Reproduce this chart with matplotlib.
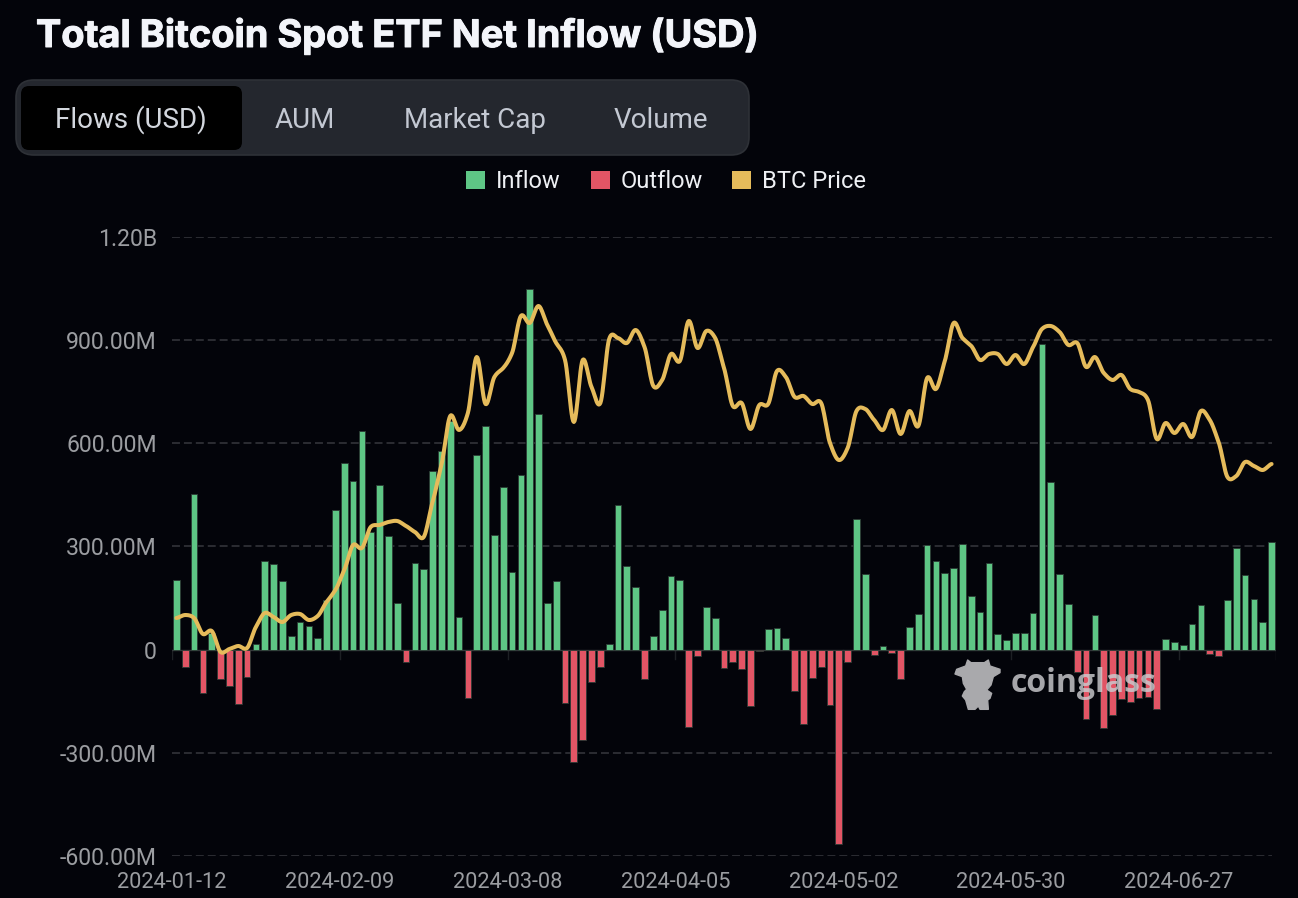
import numpy as np
import matplotlib
matplotlib.use('Agg')
import matplotlib.pyplot as plt
import matplotlib.patheffects as pe
from matplotlib.patches import FancyBboxPatch, Rectangle, Polygon

# daily net flow in millions of USD
flows = [
    203, -52, 453, -126, 47, -87, -106, -158, -79, 15,
    256, 248, 198, 39, 80, 69, 34, 145, 406, 541,
    491, 636, 341, 479, 331, 136, -36, 252, 233, 520,
    576, 665, 93, -140, 564, 649, 332, 473, 224, 507,
    1047, 684, 134, 199, -154, -327, -262, -94, -50, 15,
    419, 244, 183, -85, 40, 114, 213, 203, -225, -19,
    124, 91, -55, -37, -58, -165, -4, 60, 62, 32,
    -121, -217, -82, -52, -161, -564, -35, 379, 218, -16,
    11, -11, -85, 66, 102, 303, 257, 222, 238, 306,
    155, 108, 252, 46, 29, 49, 49, 105, 888, 488,
    218, 131, -65, -201, 101, -227, -190, -145, -152, -141,
    -138, -174, 31, 21, 12, 74, 130, -13, -20, 143,
    296, 217, 148, 79, 311,
]

btc_price = [
    42800, 43100, 42800, 41200, 41500, 39400, 39700, 40000, 39800, 41900,
    43300, 42900, 42400, 43100, 43200, 42600, 43000, 44400, 45600, 47600,
    50100, 49800, 51900, 52100, 52400, 52500, 52000, 51400, 50900, 54400,
    58100, 63000, 61600, 63300, 68900, 64200, 66900, 67800, 69300, 73000,
    72300, 74000, 72100, 70300, 68600, 62400, 68600, 65900, 64300, 70700,
    70800, 70300, 71600, 69900, 66000, 66600, 69200, 68500, 72500, 69800,
    71500, 70800, 67800, 64000, 64300, 61700, 64100, 64200, 67500, 66900,
    64900, 65000, 64200, 64300, 60300, 58600, 59800, 63500, 63700, 62600,
    61600, 63600, 61200, 63500, 62000, 66800, 65700, 68500, 72300, 70800,
    70000, 68600, 69200, 69200, 68200, 69100, 68200, 69900, 71700, 72000,
    71400, 70100, 70300, 67900, 68900, 67300, 66600, 67100, 65700, 65400,
    64600, 60700, 62300, 61300, 62200, 60900, 63500, 62600, 60400, 56900,
    57000, 58400, 58000, 57600, 58200,
]

y_ticks = [-600, -300, 0, 300, 600, 900, 1200]
y_labels = ['-600.00M', '-300.00M', '0', '300.00M', '600.00M', '900.00M', '1.20B']
x_tick_pos = [0, 19, 38, 57, 76, 95, 114]
x_labels = ['2024-01-12', '2024-02-09', '2024-03-08', '2024-04-05',
            '2024-05-02', '2024-05-30', '2024-06-27']
tabs = ['Flows (USD)', 'AUM', 'Market Cap', 'Volume']

BG = '#03040a'
GREEN = '#5ec685'
RED = '#e25565'
GOLD = '#e5bb5b'
TICK = '#9b9da1'
W, H = 1298, 898

plt.rcParams['font.family'] = ['Roboto', 'DejaVu Sans']


def smooth(x, y, n=12, k=0.42):
    # cardinal spline through the daily points, the web chart draws a smoothed line
    x = np.asarray(x, float)
    y = np.asarray(y, float)
    py = np.r_[y[0], y, y[-1]]
    out_x, out_y = [], []
    t = np.linspace(0, 1, n, endpoint=False)
    for i in range(len(x) - 1):
        m1 = k * (py[i + 2] - py[i])
        m2 = k * (py[i + 3] - py[i + 1])
        p1, p2 = py[i + 1], py[i + 2]
        out_y.append((2 * t ** 3 - 3 * t ** 2 + 1) * p1 + (t ** 3 - 2 * t ** 2 + t) * m1
                     + (-2 * t ** 3 + 3 * t ** 2) * p2 + (t ** 3 - t ** 2) * m2)
        out_x.append(x[i] + t * (x[i + 1] - x[i]))
    return np.r_[np.concatenate(out_x), x[-1]], np.r_[np.concatenate(out_y), y[-1]]


fig = plt.figure(figsize=(W / 100, H / 100), dpi=100, facecolor=BG)

ax = fig.add_axes([172 / W, 1 - 856 / H, (1276 - 172) / W, (856 - 236.5) / H], facecolor=BG)
days = np.arange(len(flows))
values = np.array(flows)
colors = [GREEN if v >= 0 else RED for v in values]
ax.bar(days, values, width=0.76, color=colors, edgecolor='#2c3a35', linewidth=0.6, zorder=3)

ax.set_xlim(-0.5, len(flows) - 0.5)
ax.set_ylim(-600, 1200)
ax.set_yticks(y_ticks)
ax.set_yticklabels(y_labels, color=TICK, fontsize=16.6)
# labels sit on the band edges, not the bar centres
ax.set_xticks(np.array(x_tick_pos) - 0.5)
ax.set_xticklabels(x_labels, color=TICK, fontsize=15.7)
ax.tick_params(axis='y', length=0, pad=11)
ax.tick_params(axis='x', length=0, pad=11.5)
for s in ax.spines.values():
    s.set_visible(False)

for v in y_ticks:
    if v == 0:
        continue
    ax.axhline(v, color='#36383d', linewidth=1.1, dashes=(5.2, 2.6), xmax=0.9965, zorder=1)
ax.axhline(0, color='#33363a', linewidth=1, zorder=2)
for pos in list(np.array(x_tick_pos) - 0.5) + [len(flows) - 0.5]:
    ax.plot([pos, pos], [0, -28], color='#1d2024', linewidth=1, zorder=1)

ax2 = ax.twinx()
ax2.set_ylim(19000, 80950)
ax2.axis('off')
sx, sy = smooth(days, btc_price)
ax2.plot(sx, sy, color=GOLD, linewidth=2.9, solid_capstyle='round', zorder=4)

# page furniture in pixel coordinates
top = fig.add_axes([0, 0, 1, 1], facecolor='none')
top.set_xlim(0, W)
top.set_ylim(H, 0)
top.axis('off')

top.text(36, 36, 'Total Bitcoin Spot ETF Net Inflow (USD)', color='#f3f5fa', fontsize=27.3,
         fontweight='bold', family=['Inter', 'DejaVu Sans'], va='center', ha='left',
         path_effects=[pe.withStroke(linewidth=0.7, foreground='#f3f5fa')])

top.add_patch(FancyBboxPatch((34, 98), 697, 39, boxstyle='round,pad=18,rounding_size=18',
                             facecolor='#24272e', edgecolor='#2e3137', linewidth=1.2))
top.add_patch(FancyBboxPatch((29, 94), 205, 48, boxstyle='round,pad=8,rounding_size=8',
                             facecolor='#000000', edgecolor='none'))
tab_x = [131, 305, 475, 661]
for t, x, c in zip(tabs, tab_x, ['#d3d7de', '#c3c8d2', '#c3c8d2', '#c3c8d2']):
    top.text(x, 120, t, color=c, fontsize=20, va='center', ha='center')

for x, name, c in [(466, 'Inflow', GREEN), (591, 'Outflow', RED), (732, 'BTC Price', GOLD)]:
    top.add_patch(Rectangle((x, 171), 19, 18, facecolor=c, edgecolor='none'))
    top.text(x + 30, 181, name, color='#eef0f4', fontsize=17, va='center', ha='left')

# watermark
mascot = [(68, 30), (78, 38), (118, 38), (130, 30), (135, 48), (165, 58), (165, 68), (145, 80),
          (138, 105), (125, 120), (140, 130), (135, 145), (128, 150), (130, 178), (105, 178),
          (100, 168), (90, 178), (70, 178), (62, 150), (52, 138), (58, 125), (65, 118),
          (55, 100), (52, 80), (30, 72), (35, 58), (62, 48)]
top.add_patch(Polygon([(945 + a / 3, 650 + b / 3) for a, b in mascot], closed=True,
                      facecolor='#a9a9ac', edgecolor='#a9a9ac', linewidth=1, joinstyle='round'))
top.text(1011, 684, 'coinglass', color='#cbcbcf', alpha=0.82, fontsize=23, fontweight='bold',
         family=['Open Sans', 'DejaVu Sans'], va='center', ha='left', zorder=6)

fig.savefig('out.png', dpi=100, facecolor=BG)
